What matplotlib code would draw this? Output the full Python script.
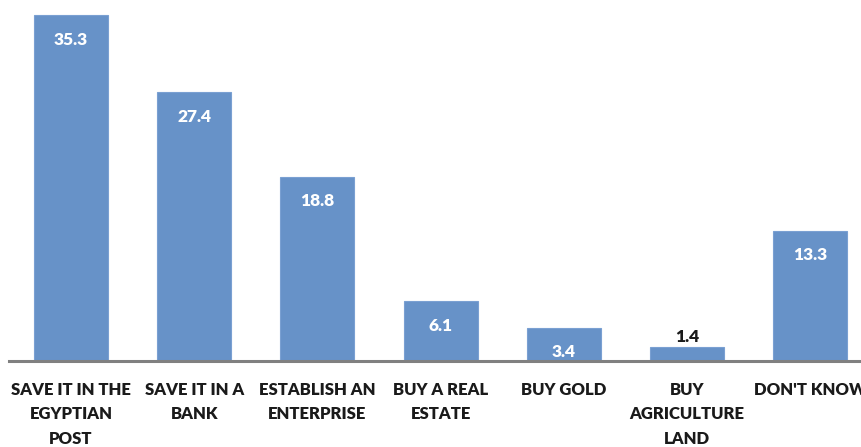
import matplotlib.pyplot as plt

categories = ["SAVE IT IN THE\nEGYPTIAN\nPOST", "SAVE IT IN A\nBANK", "ESTABLISH AN\nENTERPRISE",
              "BUY A REAL\nESTATE", "BUY GOLD", "BUY\nAGRICULTURE\nLAND", "DON'T KNOW"]
values = [35.3, 27.4, 18.8, 6.1, 3.4, 1.4, 13.3]

plt.rcParams['font.family'] = ['Lato', 'DejaVu Sans']

fig = plt.figure(figsize=(8.62, 4.47), dpi=100)
ax = fig.add_axes([9.4 / 862, 86 / 447, 862.4 / 862, 352.8 / 447])

x = range(len(values))
ax.bar(x, values, width=0.6, color='#6792c8', edgecolor='#7aa0d2', linewidth=0.8)

for i, v in enumerate(values):
    if v < 3:
        ax.text(i, v + 0.25, f"{v}", ha='center', va='bottom', fontsize=12.5,
                fontweight='heavy', color='#1a1a1a')
    else:
        ax.text(i, v - 1.7, f"{v}", ha='center', va='top', fontsize=12.5,
                fontweight='heavy', color='white')

ax.set_xlim(-0.5, len(values) - 0.5)
ax.set_ylim(0, 36)
ax.set_xticks(list(x))
ax.set_xticklabels(categories, fontsize=12, fontweight='heavy', color='#1a1a1a',
                   linespacing=1.65, va='top')
ax.tick_params(axis='x', length=0, pad=15)
ax.set_yticks([])
for s in ['top', 'right', 'left']:
    ax.spines[s].set_visible(False)
ax.spines['bottom'].set_color('#808080')
ax.spines['bottom'].set_linewidth(2.2)

fig.savefig('out.png', dpi=100)
